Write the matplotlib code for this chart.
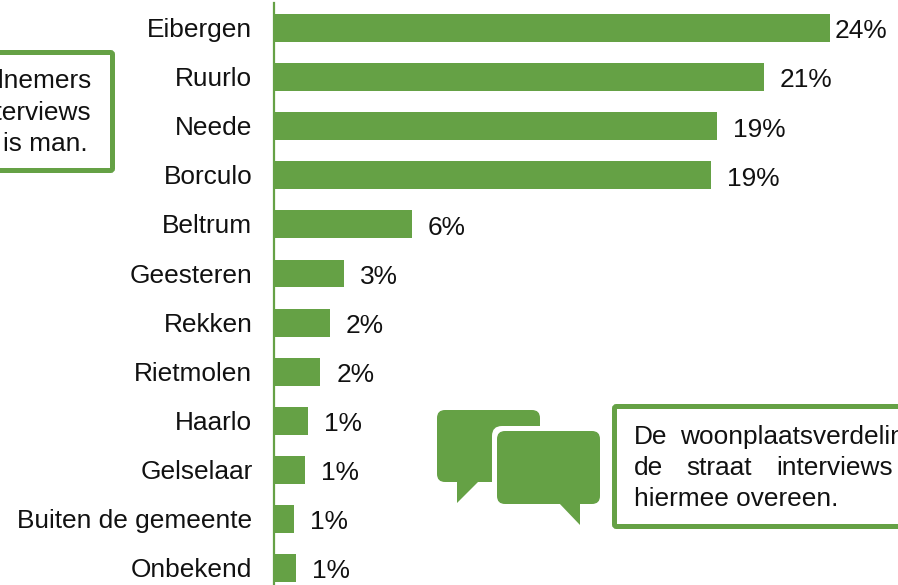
import numpy as np
import matplotlib
matplotlib.use('Agg')
import matplotlib.pyplot as plt
from matplotlib.patches import FancyBboxPatch, Polygon
from matplotlib.transforms import ScaledTranslation

plt.rcParams['font.family'] = ['Liberation Sans', 'DejaVu Sans']

plaatsen = ['Eibergen', 'Ruurlo', 'Neede', 'Borculo', 'Beltrum', 'Geesteren', 'Rekken',
            'Rietmolen', 'Haarlo', 'Gelselaar', 'Buiten de gemeente', 'Onbekend']
waarden = [24.0, 21.15, 19.1, 18.85, 5.95, 3.0, 2.4, 2.0, 1.45, 1.35, 0.85, 0.95]
labels = ['24%', '21%', '19%', '19%', '6%', '3%', '2%', '2%', '1%', '1%', '1%', '1%']

groen = '#65a145'
fs = 18.9
W, H = 898, 585

fig = plt.figure(figsize=(W / 100, H / 100), dpi=100)

# bars
ax = fig.add_axes([274 / W, 0, 1 - 274 / W, 1 - 3 / H])
y = np.arange(len(plaatsen))
ax.barh(y, waarden, height=0.57, color=groen)
ax.set_xlim(0, (W - 274) / 23.17)
ax.set_ylim((585 - 28) / 49.1, (3 - 28) / 49.1)
ax.set_yticks(y, plaatsen, fontsize=fs, color='#111111')
ax.set_xticks([])
ax.tick_params(axis='y', length=0, pad=15.5)
for lbl in ax.get_yticklabels():
    lbl.set_transform(lbl.get_transform() + ScaledTranslation(0, 0.35 / 72, fig.dpi_scale_trans))
for k in ['top', 'right', 'bottom']:
    ax.spines[k].set_visible(False)
ax.spines['left'].set_color(groen)
ax.spines['left'].set_linewidth(1.6)

for i, (w, t) in enumerate(zip(waarden, labels)):
    off = 3 if i == 0 else 11.5
    ax.annotate(t, (w, i), xytext=(off, -2.4), textcoords='offset points',
                va='center', ha='left', fontsize=fs, color='#111111')

# overlay in pixels for the boxes and the speech bubbles
ov = fig.add_axes([0, 0, 1, 1], facecolor='none')
ov.set_xlim(0, W)
ov.set_ylim(H, 0)
ov.axis('off')


def kader(x0, y0, x1, y1):
    ov.add_patch(FancyBboxPatch((x0, y0), x1 - x0, y1 - y0, boxstyle='round,pad=0,rounding_size=2',
                                fc='white', ec=groen, lw=3.6, clip_on=True))


def bubbel(x0, y0, x1, y1, staart, **kw):
    ov.add_patch(FancyBboxPatch((x0, y0), x1 - x0, y1 - y0, boxstyle='round,pad=0,rounding_size=8', **kw))
    ov.add_patch(Polygon(staart, closed=True, **kw))


kader(-20, 52.5, 112.5, 170.5)
ov.text(92, 81, 'deelnemers', ha='right', va='center', fontsize=fs, color='#111111')
ov.text(91, 113, 'interviews', ha='right', va='center', fontsize=fs, color='#111111')
ov.text(88, 144, 'is man.', ha='right', va='center', fontsize=fs, color='#111111')

kader(614.5, 406.5, 930, 526.5)
ov.text(634, 437, 'De', va='center', fontsize=fs, color='#111111')
ov.text(680, 437, 'woonplaatsverdeling', va='center', fontsize=fs, color='#111111', clip_on=True)
ov.text(634, 468, 'de', va='center', fontsize=fs, color='#111111')
ov.text(686, 468, 'straat', va='center', fontsize=fs, color='#111111')
ov.text(776, 468, 'interviews', va='center', fontsize=fs, color='#111111')
ov.text(634, 499, 'hiermee overeen.', va='center', fontsize=fs, color='#111111')

bubbel(437, 410, 540, 482, [(457, 480), (457, 503), (480, 480)], fc=groen, ec='none')
ov.add_patch(FancyBboxPatch((492, 426), 120, 90, boxstyle='round,pad=0,rounding_size=10', fc='white', ec='none'))
bubbel(497, 431, 600, 504, [(558, 502), (580, 525), (580, 502)], fc=groen, ec='none')

fig.savefig('out.png', dpi=100)
